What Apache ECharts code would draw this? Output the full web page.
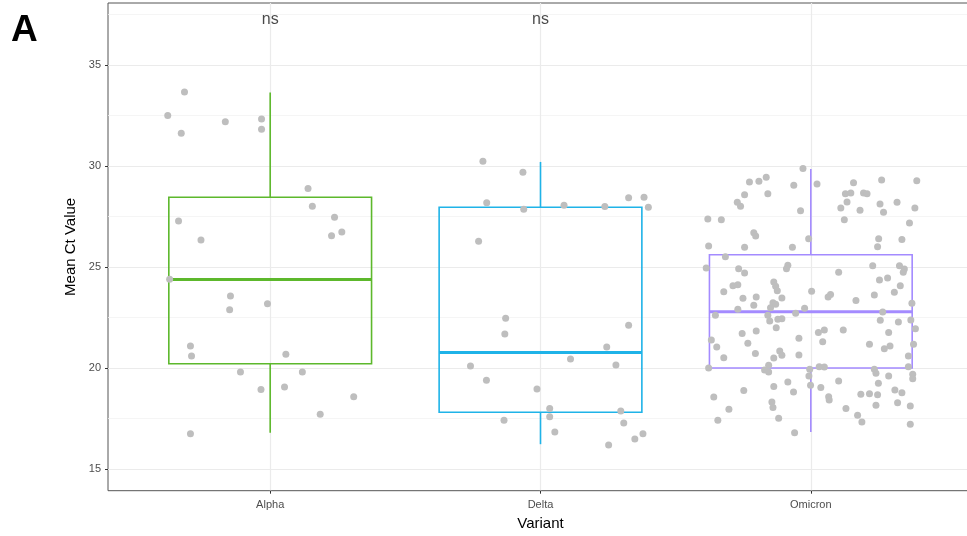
<!DOCTYPE html>
<html>
<head>
<meta charset="utf-8">
<script src="https://cdn.jsdelivr.net/npm/echarts@6/dist/echarts.min.js"></script>
<style>
html,body{margin:0;padding:0;background:#fff;}
#chart{width:967px;height:536px;}
</style>
</head>
<body>
<div id="chart"></div>
<script>
// ---- data ----
const categories = ['Alpha', 'Delta', 'Omicron'];
const categoryPos = [1, 2, 3];
const whiskerLow  = [16.81, 16.24, 16.84];
const q1          = [20.22, 17.82, 20.01];
const median      = [24.38, 20.77, 22.79];
const q3          = [28.45, 27.96, 25.61];
const whiskerHigh = [33.63, 30.20, 29.85];
const yTicks = [15, 20, 25, 30, 35];
const sigLabels = ['ns', 'ns'];
const sigPos = [1, 2];
const sigY = [37.22, 37.22];

const alphaX = [0.683,0.621,0.671,0.834,0.968,0.968,1.140,1.156,1.238,1.227,1.265,0.661,0.744,0.628,0.853,0.850,0.990,0.705,0.709,1.058,0.890,1.119,0.966,1.053,1.309,1.185,0.705];
const alphaY = [33.66,32.49,31.62,32.19,32.32,31.82,28.88,28.01,27.46,26.55,26.74,27.28,26.34,24.40,23.57,22.89,23.18,21.10,20.60,20.69,19.81,19.81,18.94,19.07,18.59,17.72,16.76];

const deltaX = [1.787,1.935,1.801,1.938,2.087,2.238,2.326,2.383,2.399,1.771,1.871,1.868,2.326,2.245,2.111,1.741,2.279,1.800,1.987,2.034,2.034,2.297,1.865,2.308,2.053,2.379,2.349,2.252];
const deltaY = [30.23,29.69,28.18,27.86,28.06,27.99,28.43,28.45,27.96,26.28,22.47,21.69,22.12,21.05,20.45,20.11,20.16,19.40,18.97,18.00,17.60,17.88,17.42,17.29,16.84,16.76,16.50,16.20];

const omicronX = [
2.971,2.773,2.808,2.835,2.937,2.755,2.841,2.728,2.740,2.962,
2.619,2.669,2.789,2.796,2.992,2.622,2.755,2.932,2.684,2.613,
2.733,2.755,2.915,2.910,2.863,2.730,2.712,2.870,2.876,2.678,
3.003,2.749,2.798,2.893,2.860,2.870,2.851,2.789,2.730,2.977,
2.944,2.647,2.841,2.893,2.878,2.848,2.872,2.798,2.746,2.956,
2.632,2.767,2.652,2.885,2.893,2.795,2.863,2.956,2.678,2.622,
2.844,2.829,2.844,2.996,2.993,2.999,2.863,2.915,2.752,2.936,
2.641,2.856,2.860,2.697,2.881,2.656,2.940,3.023,3.158,3.262,
3.392,3.128,3.148,3.195,3.208,3.134,3.111,3.182,3.256,3.319,
3.269,3.385,3.124,3.365,3.251,3.337,3.247,3.103,3.229,3.328,
3.346,3.342,3.254,3.284,3.331,3.073,3.064,3.235,3.309,3.167,
3.374,3.266,3.257,3.324,3.370,3.387,3.028,3.050,3.120,3.288,
3.044,3.217,3.272,3.293,3.380,3.361,3.031,3.050,3.235,3.241,
3.361,3.288,3.377,3.377,3.103,3.250,3.037,3.311,3.337,3.185,
3.217,3.247,3.066,3.068,3.321,3.241,3.368,3.130,3.173,3.189,
3.368];
const omicronY = [
29.87,29.21,29.24,29.44,29.05,28.58,28.63,28.20,28.01,27.79,
27.38,27.34,26.70,26.54,26.40,26.04,25.98,25.98,25.51,24.96,
24.92,24.71,25.09,24.92,24.26,24.13,24.07,24.05,23.83,23.78,
23.80,23.46,23.52,23.47,23.24,23.16,22.99,23.11,22.91,22.96,
22.72,22.62,22.62,22.45,22.42,22.33,22.00,21.84,21.71,21.48,
21.39,21.23,21.05,20.85,20.64,20.72,20.50,20.65,20.52,20.01,
20.14,19.91,19.81,19.95,19.61,19.15,19.09,19.32,18.89,18.82,
18.58,18.33,18.05,17.97,17.52,17.42,16.81,29.11,29.17,29.31,
29.27,28.62,28.66,28.66,28.62,28.22,27.92,27.81,28.12,28.20,
27.71,27.92,27.34,27.18,26.40,26.36,26.01,24.74,25.07,25.07,
24.91,24.74,24.36,24.46,24.08,23.64,23.52,23.62,23.75,23.35,
23.21,22.78,22.37,22.28,22.38,21.95,21.76,21.89,21.89,21.76,
21.31,21.18,20.96,21.10,21.18,20.60,20.07,20.06,19.95,19.75,
20.07,19.61,19.70,19.48,19.37,19.25,19.04,18.92,18.79,18.71,
18.74,18.69,18.59,18.43,18.29,18.17,18.13,18.00,17.67,17.34,
17.23];

// ---- styles ----
const boxColors = ['#5db82c', '#1fb3e8', '#a48bff'];
const pointColor = '#bebebe';
const FONT = '"Liberation Sans", Arial, Helvetica, sans-serif';

function zip(xs, ys) { return xs.map((x, i) => [x, ys[i]]); }

const boxData = categoryPos.map((p, i) => [p, whiskerLow[i], q1[i], median[i], q3[i], whiskerHigh[i], i]);

const chart = echarts.init(document.getElementById('chart'), null, { renderer: 'canvas' });

const option = {
  backgroundColor: '#ffffff',
  animation: false,
  textStyle: { fontFamily: FONT },
  grid: {
    left: 108, top: 3, right: -6, bottom: 45.3,
    show: true, borderColor: '#555555', borderWidth: 1,
    backgroundColor: 'transparent',
    outerBoundsMode: 'none',
    containLabel: false
  },
  graphic: [{
    type: 'text', left: 11, top: 12,
    style: { text: 'A', fontSize: 37, fontFamily: FONT, fill: '#000000', fontWeight: 'bold' }
  }],
  xAxis: {
    type: 'value', min: 0.4, max: 3.6, minInterval: 1, maxInterval: 1,
    name: 'Variant', nameLocation: 'middle', nameGap: 26,
    nameTextStyle: { fontSize: 15, color: '#000000', fontFamily: FONT },
    axisLine: { show: false },
    axisTick: { show: true, length: 3, customValues: categoryPos, lineStyle: { color: '#333333', width: 1 } },
    axisLabel: {
      customValues: categoryPos, margin: 9, fontSize: 11, color: '#4d4d4d', fontFamily: FONT,
      formatter: v => categories[Math.round(v) - 1] || ''
    },
    splitLine: { show: true, lineStyle: { color: '#ebebeb', width: 1.2 } },
    minorSplitLine: { show: false }
  },
  yAxis: {
    type: 'value', min: 13.94, max: 38.06, minInterval: 5, maxInterval: 5,
    name: 'Mean Ct Value', nameLocation: 'middle', nameGap: 30,
    nameTextStyle: { fontSize: 15, color: '#000000', fontFamily: FONT },
    axisLine: { show: false },
    axisTick: { show: true, length: 3, customValues: yTicks, lineStyle: { color: '#333333', width: 1 } },
    axisLabel: { customValues: yTicks, margin: 7, fontSize: 11, color: '#4d4d4d', fontFamily: FONT },
    splitLine: { show: true, lineStyle: { color: '#ebebeb', width: 1.2 } },
    minorTick: { show: false, splitNumber: 2 },
    minorSplitLine: { show: true, lineStyle: { color: '#f2f2f2', width: 0.8 } }
  },
  series: [
    {
      type: 'custom', z: 2, silent: true,
      data: boxData,
      renderItem: function (params, api) {
        const x = api.value(0);
        const lo = api.value(1), b1 = api.value(2), md = api.value(3), b3 = api.value(4), hi = api.value(5);
        const color = boxColors[api.value(6)];
        const half = 0.375;
        const tl = api.coord([x - half, b3]);
        const br = api.coord([x + half, b1]);
        const pm1 = api.coord([x - half, md]);
        const pm2 = api.coord([x + half, md]);
        const c3 = api.coord([x, b3]);
        const ch = api.coord([x, hi]);
        const c1 = api.coord([x, b1]);
        const cl = api.coord([x, lo]);
        return {
          type: 'group',
          children: [
            { type: 'line', shape: { x1: ch[0], y1: ch[1], x2: c3[0], y2: c3[1] }, style: { stroke: color, lineWidth: 1.6 } },
            { type: 'line', shape: { x1: c1[0], y1: c1[1], x2: cl[0], y2: cl[1] }, style: { stroke: color, lineWidth: 1.6 } },
            { type: 'rect', shape: { x: tl[0], y: tl[1], width: br[0] - tl[0], height: br[1] - tl[1] }, style: { fill: 'none', stroke: color, lineWidth: 1.6 } },
            { type: 'line', shape: { x1: pm1[0], y1: pm1[1], x2: pm2[0], y2: pm2[1] }, style: { stroke: color, lineWidth: 3 } }
          ]
        };
      }
    },
    {
      type: 'scatter', z: 3, silent: true, symbolSize: 7,
      itemStyle: { color: pointColor, opacity: 1 },
      data: zip(alphaX, alphaY).concat(zip(deltaX, deltaY), zip(omicronX, omicronY))
    },
    {
      type: 'scatter', z: 4, silent: true, symbolSize: 1,
      itemStyle: { color: 'rgba(0,0,0,0)' },
      label: {
        show: true, position: 'inside', fontSize: 16, color: '#1a1a1a', fontFamily: FONT,
        formatter: p => sigLabels[p.dataIndex]
      },
      data: zip(sigPos, sigY)
    }
  ]
};
chart.setOption(option);
</script>
</body>
</html>
